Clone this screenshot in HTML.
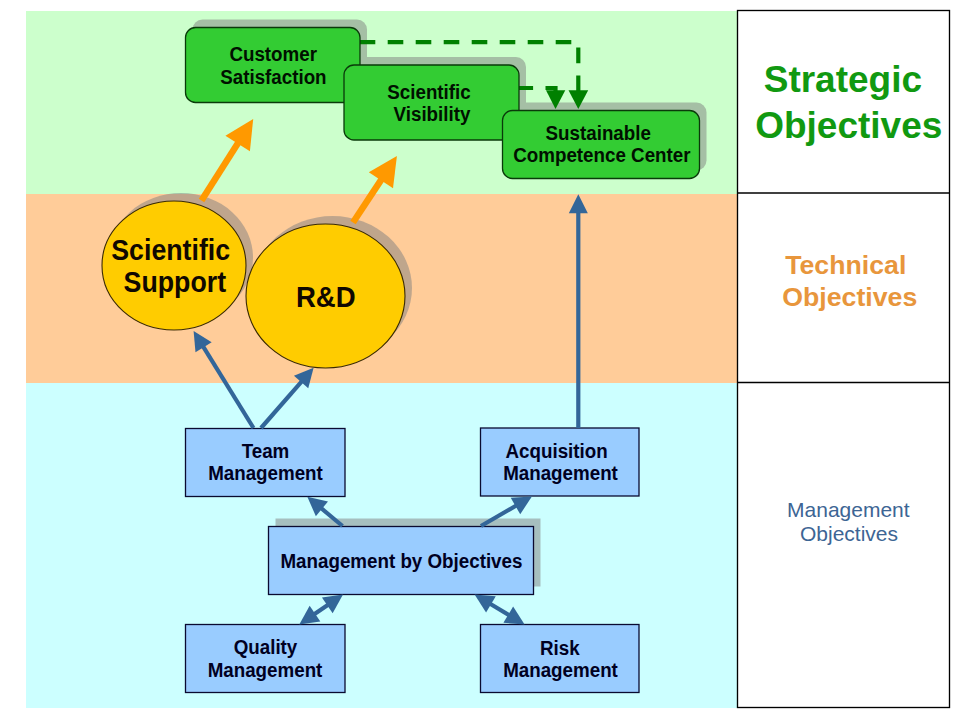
<!DOCTYPE html>
<html><head><meta charset="utf-8"><style>
html,body{margin:0;padding:0;background:#fff;width:960px;height:720px;overflow:hidden}
svg{display:block;font-family:"Liberation Sans",sans-serif}
</style></head><body>
<svg width="960" height="720" viewBox="0 0 960 720">
<rect x="26" y="11" width="711" height="183" fill="#CCFFCC"/>
<rect x="26" y="194" width="711" height="189" fill="#FFCC99"/>
<rect x="26" y="383" width="711" height="325" fill="#CCFFFF"/>
<g opacity="0.5"><rect x="192.5" y="19.5" width="174.5" height="75" rx="10" fill="#808080"/><rect x="351" y="57" width="175" height="75" rx="10" fill="#808080"/><rect x="509.5" y="102.5" width="197" height="68" rx="10" fill="#808080"/><ellipse cx="181" cy="257.5" rx="72" ry="64.5" fill="#808080"/><ellipse cx="332.5" cy="288" rx="79.5" ry="72" fill="#808080"/><rect x="275.5" y="518.5" width="265" height="68" fill="#808080"/></g>
<polyline points="359.7,42.2 578.3,42.2 578.3,92" fill="none" stroke="#008000" stroke-width="4.2" stroke-dasharray="15.6 12.4"/>
<polygon points="578.3,109.1 568.5,90.2 588.2,90.2" fill="#008000"/>
<polyline points="519,88 555.5,88 555.5,92" fill="none" stroke="#008000" stroke-width="4.2" stroke-dasharray="15.6 12.4" stroke-dashoffset="1.5"/>
<polygon points="555.5,109.1 546,90.2 565.3,90.2" fill="#008000"/>
<rect x="185.5" y="27.5" width="174.5" height="75" rx="10" fill="#33CC33" stroke="#0A3A0A" stroke-width="1.3"/>
<rect x="344" y="65" width="175" height="75" rx="10" fill="#33CC33" stroke="#0A3A0A" stroke-width="1.3"/>
<rect x="502.5" y="110.5" width="197" height="68" rx="10" fill="#33CC33" stroke="#0A3A0A" stroke-width="1.3"/>
<ellipse cx="174" cy="265.5" rx="72" ry="64.5" fill="#FFCC00" stroke="#3A2A00" stroke-width="1.1"/>
<ellipse cx="325.5" cy="296" rx="79.5" ry="72" fill="#FFCC00" stroke="#3A2A00" stroke-width="1.1"/>
<rect x="185.5" y="428.5" width="159.5" height="68" fill="#99CCFF" stroke="#0A0A30" stroke-width="1.3"/>
<rect x="480.5" y="428" width="158.5" height="68" fill="#99CCFF" stroke="#0A0A30" stroke-width="1.3"/>
<rect x="268.5" y="526.5" width="265" height="68" fill="#99CCFF" stroke="#0A0A30" stroke-width="1.3"/>
<rect x="185.5" y="624.5" width="159.5" height="68" fill="#99CCFF" stroke="#0A0A30" stroke-width="1.3"/>
<rect x="480.5" y="624.5" width="158.5" height="68" fill="#99CCFF" stroke="#0A0A30" stroke-width="1.3"/>
<line x1="201.50" y1="200.50" x2="238.20" y2="142.64" stroke="#FF9900" stroke-width="6.5"/>
<polygon points="253.20,119.00 249.91,151.26 225.42,135.72" fill="#FF9900"/>
<line x1="353.00" y1="222.50" x2="381.47" y2="179.37" stroke="#FF9900" stroke-width="6.5"/>
<polygon points="396.90,156.00 393.02,188.19 368.82,172.21" fill="#FF9900"/>
<line x1="253.50" y1="428.00" x2="203.06" y2="346.32" stroke="#336699" stroke-width="4.2"/>
<polygon points="193.60,331.00 211.67,342.17 195.50,352.16" fill="#336699"/>
<line x1="261.00" y1="428.00" x2="301.76" y2="381.35" stroke="#336699" stroke-width="4.2"/>
<polygon points="313.60,367.80 308.25,388.36 293.94,375.86" fill="#336699"/>
<line x1="578.30" y1="428.00" x2="578.30" y2="212.20" stroke="#336699" stroke-width="4.2"/>
<polygon points="578.30,194.20 587.80,213.20 568.80,213.20" fill="#336699"/>
<line x1="342.50" y1="526.00" x2="321.13" y2="508.22" stroke="#336699" stroke-width="4.2"/>
<polygon points="307.30,496.70 327.98,501.55 315.83,516.16" fill="#336699"/>
<line x1="481.00" y1="526.00" x2="516.33" y2="505.53" stroke="#336699" stroke-width="4.2"/>
<polygon points="531.90,496.50 520.22,514.25 510.70,497.81" fill="#336699"/>
<polygon points="299.30,624.40 320.35,621.54 309.65,605.85" fill="#336699"/>
<line x1="314.17" y1="614.26" x2="328.13" y2="604.74" stroke="#336699" stroke-width="4.2"/>
<polygon points="343.00,594.60 332.65,613.15 321.95,597.46" fill="#336699"/>
<polygon points="524.60,624.40 513.14,606.51 503.42,622.83" fill="#336699"/>
<line x1="509.14" y1="615.18" x2="490.06" y2="603.82" stroke="#336699" stroke-width="4.2"/>
<polygon points="474.60,594.60 495.78,596.17 486.06,612.49" fill="#336699"/>
<rect x="737.5" y="10.5" width="212" height="697" fill="#FFFFFF" stroke="#000" stroke-width="1.35"/>
<line x1="737.5" y1="193" x2="949.5" y2="193" stroke="#000" stroke-width="1.35"/>
<line x1="737.5" y1="382.5" x2="949.5" y2="382.5" stroke="#000" stroke-width="1.35"/>
<g transform="translate(273.2 53.94) scale(1.015 1.07) translate(-273.2 -53.94)"><text x="273.2" y="60.6" font-size="18.5" fill="#001000" text-anchor="middle" font-weight="bold">Customer</text></g>
<g transform="translate(273.4 76.44) scale(1.015 1.07) translate(-273.4 -76.44)"><text x="273.4" y="83.1" font-size="18.5" fill="#001000" text-anchor="middle" font-weight="bold">Satisfaction</text></g>
<g transform="translate(429 92.09) scale(1.015 1.07) translate(-429 -92.09)"><text x="429" y="98.75" font-size="18.5" fill="#001000" text-anchor="middle" font-weight="bold">Scientific</text></g>
<g transform="translate(432 113.94) scale(1.015 1.07) translate(-432 -113.94)"><text x="432" y="120.6" font-size="18.5" fill="#001000" text-anchor="middle" font-weight="bold">Visibility</text></g>
<g transform="translate(598.25 133.34) scale(1.015 1.07) translate(-598.25 -133.34)"><text x="598.25" y="140" font-size="18.5" fill="#001000" text-anchor="middle" font-weight="bold">Sustainable</text></g>
<g transform="translate(601.9 154.59) scale(1.015 1.07) translate(-601.9 -154.59)"><text x="601.9" y="161.25" font-size="18.5" fill="#001000" text-anchor="middle" font-weight="bold">Competence Center</text></g>
<g transform="translate(170.7 249.66) scale(1.01 1.1) translate(-170.7 -249.66)"><text x="170.7" y="259.2" font-size="26.5" fill="#100800" text-anchor="middle" font-weight="bold">Scientific</text></g>
<g transform="translate(174.85 281.71) scale(1.01 1.1) translate(-174.85 -281.71)"><text x="174.85" y="291.25" font-size="26.5" fill="#100800" text-anchor="middle" font-weight="bold">Support</text></g>
<g transform="translate(325.8 296.15999999999997) scale(1.04 1.1) translate(-325.8 -296.15999999999997)"><text x="325.8" y="305.7" font-size="26.5" fill="#100800" text-anchor="middle" font-weight="bold">R&amp;D</text></g>
<g transform="translate(265.5 451.34) scale(1.015 1.07) translate(-265.5 -451.34)"><text x="265.5" y="458" font-size="18.5" fill="#000022" text-anchor="middle" font-weight="bold">Team</text></g>
<g transform="translate(265.5 473.03999999999996) scale(1.015 1.07) translate(-265.5 -473.03999999999996)"><text x="265.5" y="479.7" font-size="18.5" fill="#000022" text-anchor="middle" font-weight="bold">Management</text></g>
<g transform="translate(556.6 450.84) scale(1.015 1.07) translate(-556.6 -450.84)"><text x="556.6" y="457.5" font-size="18.5" fill="#000022" text-anchor="middle" font-weight="bold">Acquisition</text></g>
<g transform="translate(560.5 472.73999999999995) scale(1.015 1.07) translate(-560.5 -472.73999999999995)"><text x="560.5" y="479.4" font-size="18.5" fill="#000022" text-anchor="middle" font-weight="bold">Management</text></g>
<g transform="translate(401.45 560.84) scale(1.015 1.07) translate(-401.45 -560.84)"><text x="401.45" y="567.5" font-size="18.5" fill="#000022" text-anchor="middle" font-weight="bold">Management by Objectives</text></g>
<g transform="translate(265.5 647.34) scale(1.015 1.07) translate(-265.5 -647.34)"><text x="265.5" y="654" font-size="18.5" fill="#000022" text-anchor="middle" font-weight="bold">Quality</text></g>
<g transform="translate(265.0 669.64) scale(1.015 1.07) translate(-265.0 -669.64)"><text x="265.0" y="676.3" font-size="18.5" fill="#000022" text-anchor="middle" font-weight="bold">Management</text></g>
<g transform="translate(559.8 647.94) scale(1.015 1.07) translate(-559.8 -647.94)"><text x="559.8" y="654.6" font-size="18.5" fill="#000022" text-anchor="middle" font-weight="bold">Risk</text></g>
<g transform="translate(560.5 669.84) scale(1.015 1.07) translate(-560.5 -669.84)"><text x="560.5" y="676.5" font-size="18.5" fill="#000022" text-anchor="middle" font-weight="bold">Management</text></g>
<text x="842.9" y="91.7" font-size="37" fill="#119911" text-anchor="middle" font-weight="bold">Strategic</text>
<text x="848.75" y="137.5" font-size="37" fill="#119911" text-anchor="middle" font-weight="bold">Objectives</text>
<text x="845.75" y="273.8" font-size="26.7" fill="#E8963C" text-anchor="middle" font-weight="bold">Technical</text>
<text x="849.75" y="305.8" font-size="26.7" fill="#E8963C" text-anchor="middle" font-weight="bold">Objectives</text>
<text x="848.35" y="516.7" font-size="21" fill="#3D6594" text-anchor="middle" font-weight="normal">Management</text>
<text x="849" y="541.3" font-size="21" fill="#3D6594" text-anchor="middle" font-weight="normal">Objectives</text>
</svg>
</body></html>
